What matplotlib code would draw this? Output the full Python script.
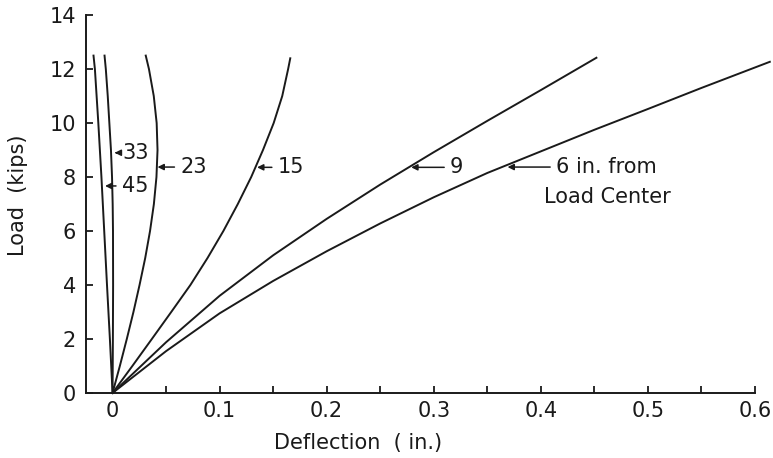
import matplotlib.pyplot as plt
import numpy as np

# load-deflection readings for gauges at distances from the load center
defl_6 = [0, 0.05, 0.1, 0.15, 0.2, 0.25, 0.3, 0.35, 0.4, 0.45, 0.5, 0.55, 0.614]
load_6 = [0, 1.55, 2.95, 4.15, 5.25, 6.28, 7.25, 8.15, 8.95, 9.75, 10.52, 11.3, 12.27]

defl_9 = [0, 0.05, 0.1, 0.15, 0.2, 0.25, 0.3, 0.35, 0.4, 0.452]
load_9 = [0, 1.88, 3.6, 5.1, 6.45, 7.72, 8.92, 10.08, 11.22, 12.42]

load_15 = [0, 1, 2, 3, 4, 5, 6, 7, 8, 9, 10, 11, 12, 12.4]
defl_15 = [0, 0.0185, 0.0367, 0.0548, 0.0727, 0.0887, 0.1035, 0.117, 0.1295,
           0.1405, 0.1505, 0.1585, 0.164, 0.166]

load_23 = [0, 1, 2, 3, 4, 5, 6, 7, 8, 9, 10, 11, 12, 12.5]
defl_23 = [0, 0.0068, 0.0133, 0.0195, 0.0252, 0.0305, 0.035, 0.0386, 0.041,
           0.042, 0.0412, 0.0385, 0.034, 0.031]

load_33 = [0, 2, 4, 6, 7, 8, 9, 10, 11, 12, 12.5]
defl_33 = [0, 0.0003, 0.0005, 0.0004, 0.0001, -0.0005, -0.0015, -0.003,
           -0.0045, -0.0063, -0.0075]

load_45 = [0, 2, 4, 6, 8, 10, 12, 12.5]
defl_45 = [0, -0.0025, -0.0052, -0.0078, -0.0104, -0.0133, -0.0165, -0.0178]

ink = '#1a1a1a'
plt.rcParams['font.family'] = 'DejaVu Sans'

fig = plt.figure(figsize=(7.73, 4.58), dpi=100)
ax = fig.add_axes([0.111, 0.142, 0.8655, 0.825])

for d, l in [(defl_6, load_6), (defl_9, load_9), (defl_15, load_15),
             (defl_23, load_23), (defl_33, load_33), (defl_45, load_45)]:
    ax.plot(d, l, color=ink, lw=1.4, clip_on=False, solid_joinstyle='round')

ax.set_xlim(-0.025, 0.6)
ax.set_ylim(0, 14)

ax.spines['top'].set_visible(False)
ax.spines['right'].set_visible(False)
for s in ['left', 'bottom']:
    ax.spines[s].set_linewidth(1.4)
    ax.spines[s].set_color(ink)

ax.set_xticks(np.arange(0, 0.61, 0.1))
ax.set_xticklabels(['0', '0.1', '0.2', '0.3', '0.4', '0.5', '0.6'])
ax.set_xticks(np.arange(0.05, 0.6, 0.1), minor=True)
ax.set_yticks(range(0, 15, 2))
ax.tick_params(axis='both', which='both', direction='in', length=5, width=1.3,
               color=ink, labelcolor=ink, labelsize=15)
ax.tick_params(axis='x', pad=6)
ax.tick_params(axis='y', pad=7)

ax.set_xlabel('Deflection  ( in.)', fontsize=15, color=ink)
ax.xaxis.set_label_coords(0.407, -0.105)
ax.set_ylabel('Load  (kips)', fontsize=15, color=ink)
ax.yaxis.set_label_coords(-0.087, 0.524)

# curve labels with small arrows
arrow = dict(arrowstyle='-|>', color=ink, lw=1.1, mutation_scale=9,
             shrinkA=2, shrinkB=0, relpos=(0, 0.5))
labels = [('33', 0.002, 8.9, 0.0093),
          ('45', -0.007, 7.67, 0.0084),
          ('23', 0.042, 8.37, 0.063),
          ('15', 0.135, 8.36, 0.154),
          ('9', 0.279, 8.36, 0.315),
          ('6 in. from', 0.369, 8.37, 0.414)]
for txt, xa, ya, xt in labels:
    ax.annotate(txt, xy=(xa, ya), xytext=(xt, ya), fontsize=15, color=ink,
                ha='left', va='center', arrowprops=arrow)
ax.text(0.403, 7.27, 'Load Center', fontsize=15, color=ink, ha='left', va='center')

fig.savefig('out.png', dpi=100)
